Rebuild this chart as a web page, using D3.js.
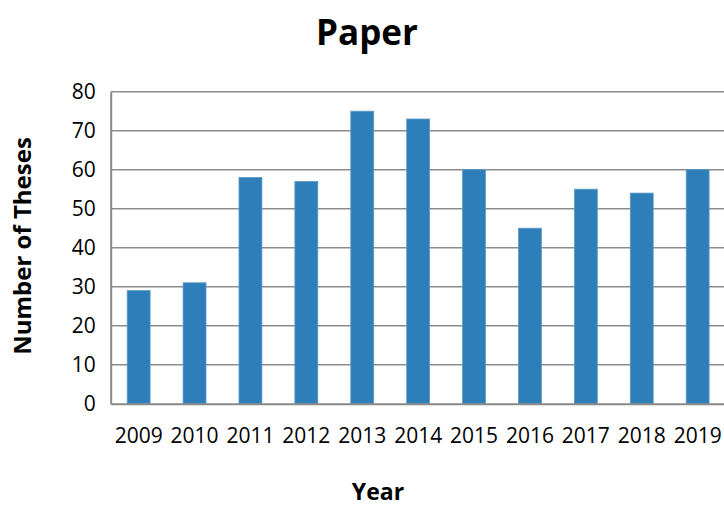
<!DOCTYPE html>
<html>
<head>
<meta charset="utf-8">
<script src="https://d3js.org/d3.v7.min.js"></script>
<style>
  body { margin: 0; background: #fff; }
  text { font-family: "Open Sans", sans-serif; }
</style>
</head>
<body>
<div id="chart"></div>
<script>
var width = 724;
var height = 507;

// chart data
var years = ["2009", "2010", "2011", "2012", "2013", "2014", "2015", "2016", "2017", "2018", "2019"];
var theses = [29, 31, 58, 57, 75, 73, 60, 45, 55, 54, 60];
var yTicks = [0, 10, 20, 30, 40, 50, 60, 70, 80];

// plot area (note: "top" is taken by window.top)
var plotLeft = 110.7, plotRight = 725.6, plotTop = 91.7, plotBottom = 403.7;

var svg = d3.select("#chart")
  .append("svg")
  .attr("width", width)
  .attr("height", height);

var x = d3.scaleBand().domain(years).range([plotLeft, plotRight]).paddingInner(0.59).paddingOuter(0.295);
var y = d3.scaleLinear().domain([0, 80]).range([plotBottom, plotTop]);

// gridlines
svg.append("g")
  .selectAll("line")
  .data(yTicks.filter(d => d > 0))
  .enter()
  .append("line")
  .attr("x1", plotLeft)
  .attr("x2", plotRight)
  .attr("y1", d => y(d))
  .attr("y2", d => y(d))
  .attr("stroke", "#8c8c8c")
  .attr("stroke-width", 1.5);

// bars
svg.append("g")
  .selectAll("rect")
  .data(theses)
  .enter()
  .append("rect")
  .attr("x", (d, i) => x(years[i]))
  .attr("y", d => y(d))
  .attr("width", x.bandwidth())
  .attr("height", d => y(0) - y(d))
  .attr("fill", "#2e7eb9")
  .attr("stroke", "#5d9acb")
  .attr("stroke-width", 0.8);

// y axis
var yAxis = svg.append("g")
  .attr("transform", "translate(" + plotLeft + ",0)")
  .call(d3.axisLeft(y).tickValues(yTicks).tickSize(0).tickPadding(15));
yAxis.select(".domain").attr("stroke", "#888").attr("stroke-width", 2);
yAxis.selectAll("text").style("font-size", "21px").attr("fill", "#000");

// x axis
var xAxis = svg.append("g")
  .attr("transform", "translate(0," + plotBottom + ")")
  .call(d3.axisBottom(x).tickSize(0).tickPadding(24));
xAxis.select(".domain").attr("stroke", "#888").attr("stroke-width", 2);
xAxis.selectAll("text").style("font-size", "21px").attr("fill", "#000");

// titles
svg.append("text")
  .attr("x", 367)
  .attr("y", 45)
  .attr("text-anchor", "middle")
  .style("font-size", "35px")
  .style("font-weight", "bold")
  .text("Paper");

svg.append("text")
  .attr("transform", "translate(31,246) rotate(-90)")
  .attr("text-anchor", "middle")
  .style("font-size", "24px")
  .style("font-weight", "bold")
  .text("Number of Theses");

svg.append("text")
  .attr("x", 378)
  .attr("y", 500)
  .attr("text-anchor", "middle")
  .style("font-size", "23px")
  .style("font-weight", "bold")
  .text("Year");
</script>
</body>
</html>
